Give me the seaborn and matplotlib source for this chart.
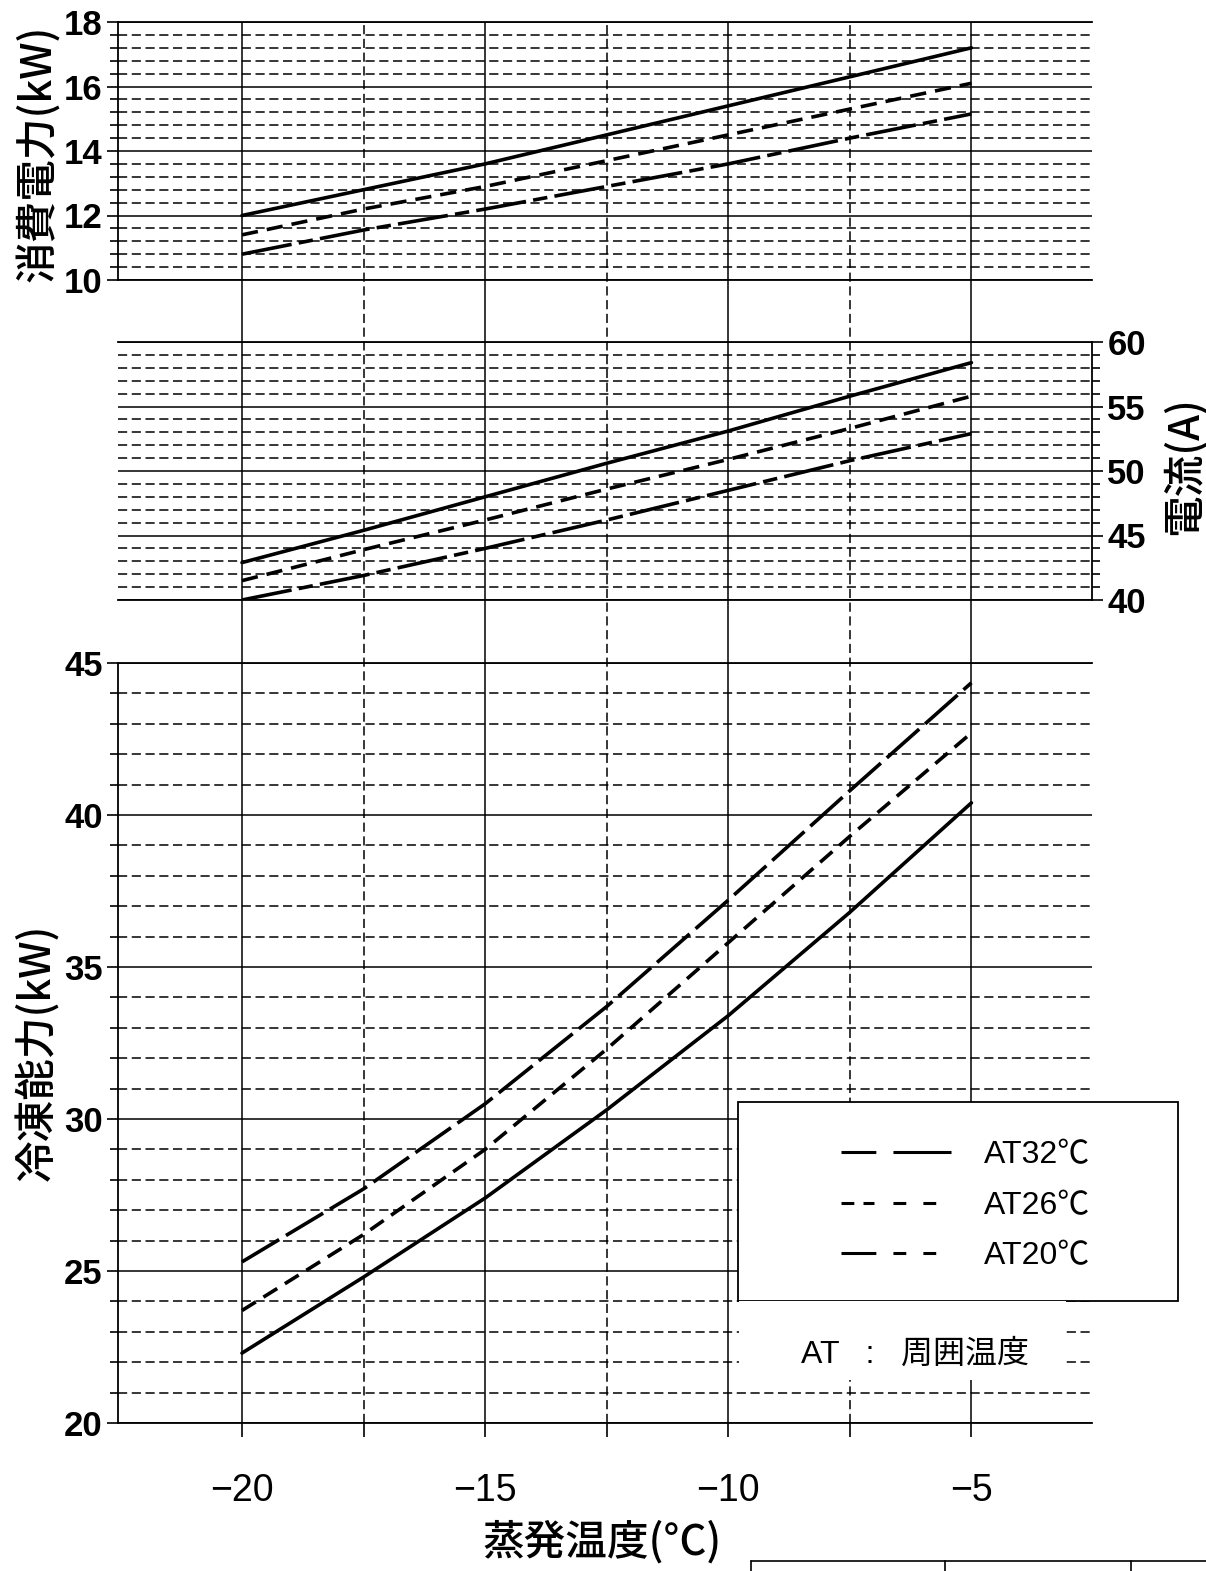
import matplotlib
matplotlib.use('Agg')
import numpy as np
import pandas as pd
import matplotlib.pyplot as plt
from matplotlib.lines import Line2D
from matplotlib.patches import Rectangle
import seaborn as sns

# evaporation temperature (x) and the three ambient-temperature curves per panel
evap = [-20, -17.5, -15, -12.5, -10, -7.5, -5]

power_at32 = [12.0, 12.8, 13.6, 14.5, 15.4, 16.3, 17.2]
power_at26 = [11.4, 12.2, 12.9, 13.7, 14.5, 15.3, 16.1]
power_at20 = [10.8, 11.55, 12.2, 12.9, 13.6, 14.4, 15.15]

current_at32 = [42.9, 45.4, 48.0, 50.6, 53.1, 55.8, 58.4]
current_at26 = [41.5, 43.9, 46.2, 48.6, 50.9, 53.3, 55.8]
current_at20 = [40.0, 41.9, 44.0, 46.2, 48.5, 50.8, 52.9]

capacity_at32 = [22.3, 24.8, 27.4, 30.3, 33.4, 36.8, 40.4]
capacity_at26 = [23.7, 26.2, 29.0, 32.3, 35.8, 39.3, 42.7]
capacity_at20 = [25.3, 27.7, 30.5, 33.7, 37.2, 40.8, 44.35]

legend_labels = ['AT32℃', 'AT26℃', 'AT20℃']
note_text = 'AT   :   周囲温度'

sns.set_style('white')
plt.rcParams['font.family'] = ['Liberation Sans', 'Noto Sans CJK JP']
plt.rcParams['axes.unicode_minus'] = True
for key in ('text.color', 'axes.labelcolor', 'xtick.color', 'ytick.color', 'axes.edgecolor'):
    plt.rcParams[key] = 'black'

JP = ['Noto Sans CJK JP', 'DejaVu Sans']
NARROW = ['Liberation Sans Narrow', 'Liberation Sans', 'Noto Sans CJK JP']


def to_long(curves):
    rows = []
    for name, ys in curves.items():
        for x, y in zip(evap, ys):
            rows.append((name, x, y))
    return pd.DataFrame(rows, columns=['series', 'evap', 'value'])


W, H = 1206, 1571


def box(left, top, right, bottom):
    return [left / W, 1 - bottom / H, (right - left) / W, (bottom - top) / H]


fig = plt.figure(figsize=(W / 100, H / 100), dpi=100, facecolor='white')
bg = fig.add_axes(box(118, 22, 1092, 1423))
ax_p = fig.add_axes(box(118, 22, 1092, 280))
ax_c = fig.add_axes(box(118, 342, 1092, 600))
ax_q = fig.add_axes(box(118, 663, 1092, 1423))

xlim = (-22.55, -2.52)
x_major = [-20, -15, -10, -5]
x_minor = [-17.5, -12.5, -7.5]
GRID_DASH = (0, (6, 3))
LW_GRID = 1.1
LW_DATA = 2.6

# continuous vertical grid running through all panels
bg.set_xlim(*xlim)
bg.set_ylim(0, 1)
bg.set_xticks(x_major)
bg.set_xticks(x_minor, minor=True)
bg.grid(which='major', axis='x', color='black', lw=LW_GRID, ls='-')
bg.grid(which='minor', axis='x', color='black', lw=LW_GRID, ls=GRID_DASH)
bg.tick_params(which='both', length=0, labelbottom=False, labelleft=False)
bg.set_yticks([])
for s in bg.spines.values():
    s.set_visible(False)


def style_panel(ax, ylim, major, minor_step, side):
    ax.set_facecolor('none')
    ax.set_xlim(*xlim)
    ax.set_ylim(*ylim)
    ax.set_yticks(major, [str(v) for v in major], fontweight='bold', fontsize=25)
    ax.set_yticks(np.arange(ylim[0], ylim[1] + 1e-6, minor_step), minor=True)
    ax.yaxis.grid(True, which='major', color='black', lw=LW_GRID, ls='-')
    ax.yaxis.grid(True, which='minor', color='black', lw=LW_GRID, ls=GRID_DASH)
    ax.tick_params(axis='y', which='major', direction='out', length=8, width=1.2, pad=3,
                   left=(side == 'left'), right=(side == 'right'),
                   labelleft=(side == 'left'), labelright=(side == 'right'))
    ax.tick_params(axis='y', which='minor', direction='out', length=6, width=1.2,
                   left=(side == 'left'), right=(side == 'right'))
    if side == 'right':
        ax.yaxis.set_label_position('right')
    for name, s in ax.spines.items():
        s.set_color('black')
        s.set_linewidth(1.3)
        s.set_visible(name in ('top', 'bottom', side))


def draw_curves(ax, curves, dashes):
    sns.lineplot(data=to_long(curves), x='evap', y='value', style='series',
                 dashes=dashes, color='black', linewidth=LW_DATA, legend=False, ax=ax)


# --- power consumption ---
draw_curves(ax_p, {'AT32': power_at32, 'AT26': power_at26, 'AT20': power_at20},
            {'AT32': '', 'AT26': (4.5, 2.5), 'AT20': (14, 2, 4, 2)})
style_panel(ax_p, (10, 18), [10, 12, 14, 16, 18], 0.4, 'left')
ax_p.set_xticks([])
ax_p.set_xlabel('')
ax_p.set_ylabel('消費電力(kW)', family=JP, fontsize=30, fontweight='medium')
ax_p.yaxis.set_label_coords(-0.060, 0.49)

# --- current ---
draw_curves(ax_c, {'AT32': current_at32, 'AT26': current_at26, 'AT20': current_at20},
            {'AT32': '', 'AT26': (4.5, 2.5), 'AT20': (14, 2, 4, 2)})
style_panel(ax_c, (40, 60), [40, 45, 50, 55, 60], 1, 'right')
ax_c.set_xticks([])
ax_c.set_xlabel('')
ax_c.set_ylabel('電流(A)', family=JP, fontsize=30, fontweight='medium')
ax_c.yaxis.set_label_coords(1.072, 0.52)

# --- refrigerating capacity ---
draw_curves(ax_q, {'AT32': capacity_at32, 'AT26': capacity_at26, 'AT20': capacity_at20},
            {'AT32': '', 'AT26': (4.5, 2.5), 'AT20': (12, 2.2)})
style_panel(ax_q, (20, 45), [20, 25, 30, 35, 40, 45], 1, 'left')
ax_q.set_xticks(x_major)
ax_q.set_xticks(x_minor, minor=True)
ax_q.tick_params(axis='x', which='both', direction='out', length=10, width=1.2,
                 bottom=True, labelsize=27, pad=26)
ax_q.set_xlabel('蒸発温度(°C)', family=JP, fontsize=30, fontweight='medium')
ax_q.xaxis.set_label_coords(0.497, -0.127)
ax_q.set_ylabel('冷凍能力(kW)', family=JP, fontsize=30, fontweight='medium')
ax_q.yaxis.set_label_coords(-0.060, 0.488)

# legend box and note
ax_q.add_patch(Rectangle((0.6366, 0.1605), 0.4514, 0.2619, transform=ax_q.transAxes,
                         facecolor='white', edgecolor='black', lw=1.3,
                         clip_on=False, zorder=4))
ax_q.add_patch(Rectangle((0.638, 0.0566), 0.335, 0.1039, transform=ax_q.transAxes,
                         facecolor='white', edgecolor='none', clip_on=False, zorder=4))
handles = [
    Line2D([], [], color='black', lw=2.2, dashes=(11.4, 5.6, 19, 5)),
    Line2D([], [], color='black', lw=2.2, dashes=(4.2, 3, 3.6, 6.2, 4.2, 5.6, 4.2, 20)),
    Line2D([], [], color='black', lw=2.2, dashes=(11.4, 5.6, 4.2, 5.6, 4.2, 20)),
]
leg = ax_q.legend(handles, legend_labels, loc='upper left', bbox_to_anchor=(0.7259, 0.393),
                  frameon=False, borderpad=0, handlelength=3.45, handletextpad=1.03,
                  labelspacing=0.64, prop={'family': NARROW, 'size': 23})
leg.set_zorder(5)
ax_q.text(0.818, 0.090, note_text, transform=ax_q.transAxes, ha='center', va='center',
          family=['Liberation Sans', 'Noto Sans CJK JP'], fontsize=23, zorder=5)

# edge of the next table at the bottom of the page
ty = 1 - 1561 / H
fig.add_artist(Line2D([751 / W, 1206 / W], [ty, ty], transform=fig.transFigure, color='black', lw=1.2))
for tx in (751, 945, 1131):
    fig.add_artist(Line2D([tx / W, tx / W], [ty, 0], transform=fig.transFigure, color='black', lw=1.2))

fig.savefig('out.png', dpi=100, facecolor='white')
